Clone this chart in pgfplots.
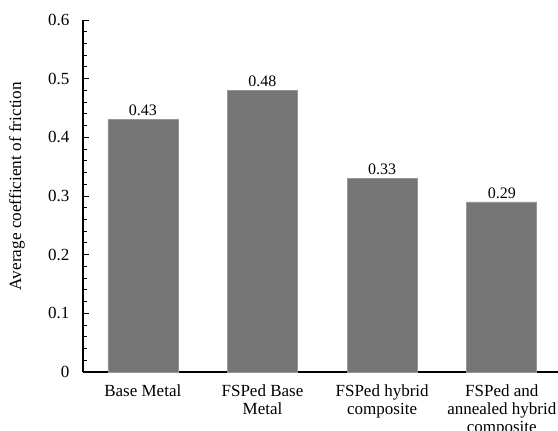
\documentclass[border=0pt]{standalone}
\usepackage{pgfplots}
\pgfplotsset{compat=1.18}
\usepackage{fontspec}
\setmainfont{Liberation Serif}
\definecolor{bargray}{RGB}{117,117,117}
\definecolor{bardge}{RGB}{150,150,150}
\begin{document}
\begin{tikzpicture}
\begin{axis}[
  name=ax,
  scale only axis,
  width=475pt, height=352pt,
  xmin=-0.5, xmax=3.47,
  ymin=0, ymax=0.6,
  axis x line*=bottom,
  axis y line*=left,
  axis line style={-, line width=1.2pt, black},
  ytick={0,0.1,0.2,0.3,0.4,0.5,0.6},
  minor y tick num=4,
  tick align=inside,
  major tick length=6pt,
  minor tick length=4pt,
  tick style={black, line width=0.9pt},
  xtick={0,1,2,3},
  xtick style={draw=none},
  xticklabels={Base Metal, FSPed Base Metal, FSPed hybrid composite, FSPed and annealed hybrid composite},
  xticklabel style={font=\fontsize{17}{18}\selectfont, text width=115pt, align=flush center, anchor=north, yshift=-9pt},
  yticklabel style={font=\fontsize{17}{18}\selectfont, xshift=-10pt},
  /pgf/number format/assume math mode=true,
  yticklabel={\pgfmathprintnumber[fixed,precision=1]{\tick}},
  ylabel={Average coefficient of friction},
  every axis y label/.style={at={(rel axis cs:-0.139,0.528)}, rotate=90, anchor=center, font=\fontsize{17.2}{19}\selectfont},
  nodes near coords,
  nodes near coords style={font=\fontsize{16}{17}\selectfont, color=black, /pgf/number format/fixed, /pgf/number format/precision=2, /pgf/number format/fixed zerofill, yshift=0pt},
  clip=false,
]
\addplot[ybar, bar width=70pt, fill=bargray, draw=bardge, line width=0.6pt] coordinates {(0,0.43) (1,0.48) (2,0.33) (3,0.29)};
\end{axis}
\pgfresetboundingbox
\useasboundingbox ([shift={(-83pt,-58pt)}]ax.south west) rectangle ([shift={(0pt,20pt)}]ax.north east);
\end{tikzpicture}
\end{document}
